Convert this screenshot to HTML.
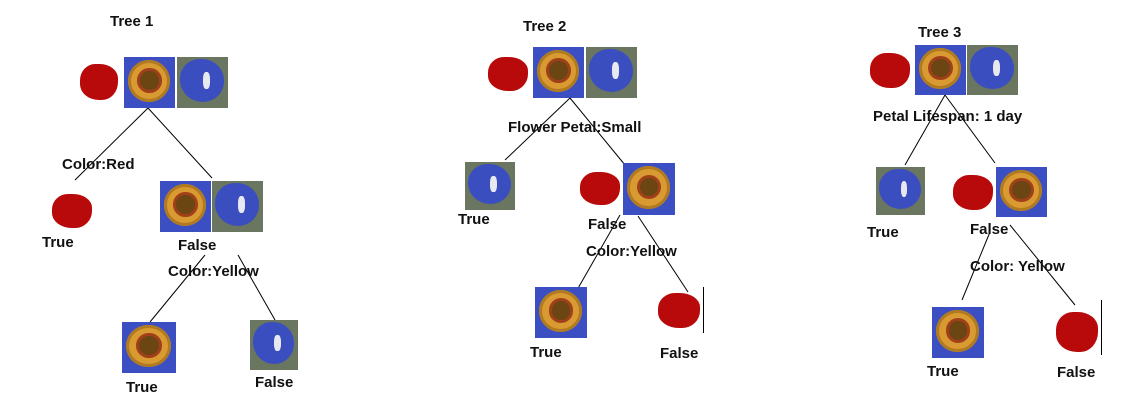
<!DOCTYPE html>
<html><head><meta charset="utf-8"><style>
body{margin:0;width:1138px;height:414px;background:#fff;position:relative;overflow:hidden;font-family:"Liberation Sans",sans-serif}
.t{position:absolute;font-weight:bold;font-size:15px;color:#111;white-space:nowrap;line-height:17px}
.sf{position:absolute;background:#3c4fc2;overflow:hidden}
.sf::before{content:"";position:absolute;left:8%;top:6%;width:82%;height:82%;border-radius:50%;background:#d99a32;box-shadow:inset 0 0 0 3px #b07a20}
.sf::after{content:"";position:absolute;left:32%;top:28%;width:36%;height:36%;border-radius:50%;background:#6b4512;box-shadow:0 0 0 3px #a0401a}
.bb{position:absolute;background:#6a7660;overflow:hidden}
.bb::before{content:"";position:absolute;left:6%;top:4%;width:86%;height:84%;border-radius:45% 50% 48% 52%;background:#3a4ec0}
.bb::after{content:"";position:absolute;left:50%;top:30%;width:14%;height:32%;border-radius:40%;background:#e8e8f0}
.rd{position:absolute;background:#b80a0a;border-radius:40% 48% 42% 50%/45% 40% 50% 44%}
.vl{position:absolute;width:1px;background:#000}
svg{position:absolute;left:0;top:0}
</style></head><body>
<svg width="1138" height="414" stroke="#000" stroke-width="1">
<line x1="148" y1="108" x2="75" y2="180"/><line x1="148" y1="108" x2="212" y2="178"/>
<line x1="205" y1="255" x2="150" y2="322"/><line x1="238" y1="255" x2="275" y2="320"/>
<line x1="570" y1="98" x2="505" y2="160"/><line x1="570" y1="98" x2="625" y2="165"/>
<line x1="620" y1="215" x2="577" y2="290"/><line x1="638" y1="216" x2="688" y2="292"/>
<line x1="945" y1="95" x2="905" y2="165"/><line x1="945" y1="95" x2="995" y2="163"/>
<line x1="990" y1="232" x2="962" y2="300"/><line x1="1010" y1="225" x2="1075" y2="305"/>
</svg>
<!-- Tree 1 -->
<div class="t" style="left:110px;top:13px">Tree 1</div>
<div class="rd" style="left:80px;top:64px;width:38px;height:36px"></div>
<div class="sf" style="left:124px;top:57px;width:51px;height:51px"></div>
<div class="bb" style="left:177px;top:57px;width:51px;height:51px"></div>
<div class="t" style="left:62px;top:156px">Color:Red</div>
<div class="rd" style="left:52px;top:194px;width:40px;height:34px"></div>
<div class="t" style="left:42px;top:234px">True</div>
<div class="sf" style="left:160px;top:181px;width:51px;height:51px"></div>
<div class="bb" style="left:212px;top:181px;width:51px;height:51px"></div>
<div class="t" style="left:178px;top:237px">False</div>
<div class="t" style="left:168px;top:263px">Color:Yellow</div>
<div class="sf" style="left:122px;top:322px;width:54px;height:51px"></div>
<div class="t" style="left:126px;top:379px">True</div>
<div class="bb" style="left:250px;top:320px;width:48px;height:50px"></div>
<div class="t" style="left:255px;top:374px">False</div>
<!-- Tree 2 -->
<div class="t" style="left:523px;top:18px">Tree 2</div>
<div class="rd" style="left:488px;top:57px;width:40px;height:34px"></div>
<div class="sf" style="left:533px;top:47px;width:51px;height:51px"></div>
<div class="bb" style="left:586px;top:47px;width:51px;height:51px"></div>
<div class="t" style="left:508px;top:119px">Flower Petal:Small</div>
<div class="bb" style="left:465px;top:162px;width:50px;height:48px"></div>
<div class="t" style="left:458px;top:211px">True</div>
<div class="rd" style="left:580px;top:172px;width:40px;height:33px"></div>
<div class="sf" style="left:623px;top:163px;width:52px;height:52px"></div>
<div class="t" style="left:588px;top:216px">False</div>
<div class="t" style="left:586px;top:243px">Color:Yellow</div>
<div class="sf" style="left:535px;top:287px;width:52px;height:51px"></div>
<div class="t" style="left:530px;top:344px">True</div>
<div class="rd" style="left:658px;top:293px;width:42px;height:35px"></div>
<div class="vl" style="left:703px;top:287px;height:46px"></div>
<div class="t" style="left:660px;top:345px">False</div>
<!-- Tree 3 -->
<div class="t" style="left:918px;top:24px">Tree 3</div>
<div class="rd" style="left:870px;top:53px;width:40px;height:35px"></div>
<div class="sf" style="left:915px;top:45px;width:51px;height:50px"></div>
<div class="bb" style="left:967px;top:45px;width:51px;height:50px"></div>
<div class="t" style="left:873px;top:108px">Petal Lifespan: 1 day</div>
<div class="bb" style="left:876px;top:167px;width:49px;height:48px"></div>
<div class="t" style="left:867px;top:224px">True</div>
<div class="rd" style="left:953px;top:175px;width:40px;height:35px"></div>
<div class="sf" style="left:996px;top:167px;width:51px;height:50px"></div>
<div class="t" style="left:970px;top:221px">False</div>
<div class="t" style="left:970px;top:258px">Color: Yellow</div>
<div class="sf" style="left:932px;top:307px;width:52px;height:51px"></div>
<div class="t" style="left:927px;top:363px">True</div>
<div class="rd" style="left:1056px;top:312px;width:42px;height:40px"></div>
<div class="vl" style="left:1101px;top:300px;height:55px"></div>
<div class="t" style="left:1057px;top:364px">False</div>
</body></html>
